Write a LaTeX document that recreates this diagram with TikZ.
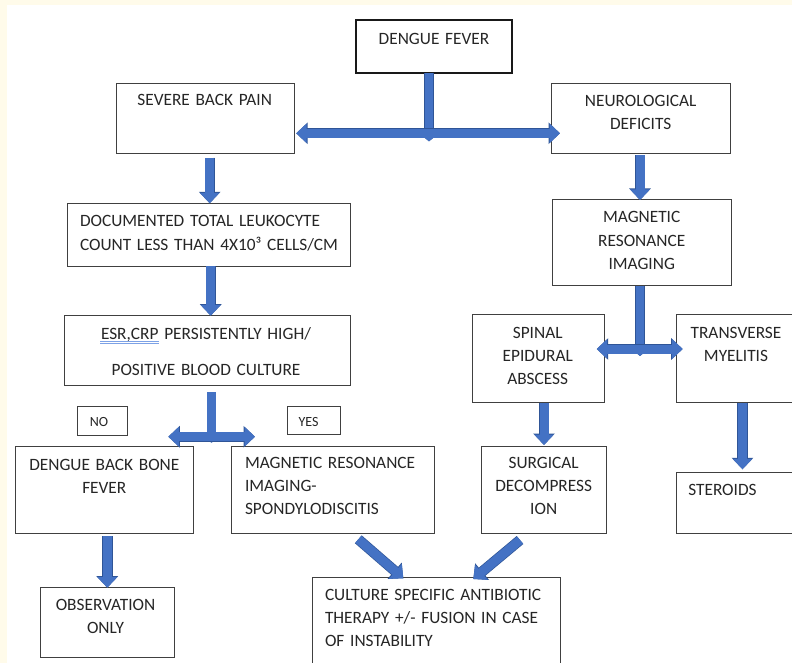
\documentclass[tikz,border=0pt]{standalone}
\usepackage{fontspec}
\setmainfont{Carlito}
\usetikzlibrary{arrows.meta,calc}
\definecolor{cream}{HTML}{FFFBEA}
\definecolor{ablue}{HTML}{4472C4}
\definecolor{aedge}{HTML}{2F5597}
\definecolor{txtc}{HTML}{262626}
\definecolor{boxc}{HTML}{404040}
\definecolor{ublue}{HTML}{7DA2E6}
\newcommand\mkbox[6][]{\node[box,#1,minimum width={(#5-#3)*1pt},minimum height={(#6-#4)*1pt}] (#2) at ({(#3+#5)/2},{(#4+#6)/2}) {};}
\tikzset{
  box/.style={draw=boxc, line width=1pt, inner sep=0pt, outer sep=0pt, fill=white},
  thickbox/.style={draw=black!90, line width=2pt},
  txt/.style={inner sep=0pt, outer sep=0pt, text=txtc, font=\fontsize{17.3}{23.3}\selectfont},
  ctext/.style={txt, text width=400pt, align=center, anchor=base},
  ltext/.style={txt, text width=400pt, align=left, anchor=base west},
  small/.style={font=\fontsize{14}{17}\selectfont},
  blk/.style={draw=ablue, line width=9pt, -{Triangle[length=10.5pt,width=19pt]},
    preaction={draw=aedge, line width=10.4pt, -{Triangle[length=11.5pt,width=21pt]}}},
  blk2/.style={draw=ablue, line width=9pt, {Triangle[length=10.5pt,width=19pt]}-{Triangle[length=10.5pt,width=19pt]},
    preaction={draw=aedge, line width=10.4pt, {Triangle[length=11.5pt,width=21pt]}-{Triangle[length=11.5pt,width=21pt]}}},
  blkstem/.style={draw=ablue, line width=8.5pt, -{Triangle[length=5pt,width=12pt]},
    preaction={draw=aedge, line width=9.9pt, -{Triangle[length=5.5pt,width=13.5pt]}}},
}
\begin{document}
\begin{tikzpicture}[x=1pt,y=-1pt]
\useasboundingbox (0,0) rectangle (792,663);
\fill[white] (0,0) rectangle (792,663);
\fill[cream] (0,0) rectangle (792,5.3);
\fill[cream] (0,0) rectangle (7.3,663);

% boxes
\mkbox[thickbox]{dengue}{356}{20}{512}{72.7}
\mkbox{severe}{116}{83.3}{294.7}{153.7}
\mkbox{neuro}{551.7}{83.3}{730.5}{153.7}
\mkbox{doc}{67.3}{203.3}{350.7}{266}
\mkbox{mri}{552.7}{200}{731}{285.7}
\mkbox{esr}{64}{315.7}{350.7}{385}
\mkbox{spinal}{472.3}{314.3}{604}{402.7}
\mkbox{trans}{676.7}{314.3}{800}{402.7}
\mkbox{no}{77.3}{406.7}{127.7}{435.7}
\mkbox{yes}{287.3}{406.7}{340}{434}
\mkbox{dbb}{15}{446}{193.3}{533.3}
\mkbox{mrs}{231.7}{446.7}{434.3}{533.3}
\mkbox{surg}{481}{446}{606.7}{533.3}
\mkbox{ster}{676.7}{472.7}{800}{533.3}
\mkbox{obs}{40}{587.7}{174}{657.7}
\mkbox{cult}{312}{577.7}{560}{680}

% junctions
\coordinate (jtop) at (429,133.3);
\coordinate (jmri) at (640,349);
\coordinate (jesr) at (211.5,436.7);
\coordinate (nlft) at (168.3,436.7);
\coordinate (nrgt) at (255,436.7);

% connectors
\draw[blkstem] (dengue.south -| jtop) -- ([yshift=-8pt]jtop);
\draw[blk2] ([xshift=1.5pt]severe.east |- jtop) -- ([xshift=8.3pt]neuro.west |- jtop);
\draw[blk] ([xshift=4.35pt,yshift=-4pt]severe.south) -- ([xshift=4.35pt]severe.south |- doc.north);
\draw[blk] ([xshift=1.7pt]doc.south) -- ([xshift=1.7pt]doc.south |- esr.north);
\draw[blk] ([xshift=-1.1pt,yshift=-1.6pt]neuro.south) -- ([xshift=-1.1pt]neuro.south |- mri.north);
\draw[blkstem] (mri.south -| jmri) -- ([yshift=-7pt]jmri);
\draw[blk2] ([xshift=-7.3pt]spinal.east |- jmri) -- ([xshift=6pt]trans.west |- jmri);
\draw[blk] ([xshift=5.85pt]spinal.south) -- ([xshift=5.85pt,yshift=1pt]spinal.south |- surg.north);
\draw[blk] ([xshift=4.15pt]trans.south) -- ([xshift=4.15pt,yshift=3.4pt]trans.south |- ster.north);
\draw[blkstem] ([yshift=-7.3pt]esr.south -| jesr) -- ([yshift=-6pt]jesr);
\draw[blk2] (nlft) -- (nrgt);
\draw[blk] ([xshift=3.15pt,yshift=-2.7pt]dbb.south) -- ([xshift=3.15pt]dbb.south |- obs.north);
\draw[blk] ([xshift=25.3pt,yshift=-6pt]mrs.south) -- ([xshift=-32.7pt,yshift=-0.6pt]cult.north);
\draw[blk] ([xshift=-23.85pt,yshift=-6.7pt]surg.south) -- ([xshift=37.3pt,yshift=-1.3pt]cult.north);

% texts
\node[ctext] (t-dengue) at (434,45) {DENGUE FEVER};
\node[ctext] (t-severe) at (204.7,106) {SEVERE BACK PAIN};
\node[ctext] (t-neuro) at (640.7,106.7) {NEUROLOGICAL\\DEFICITS};
\node[ltext] (t-doc) at (80,226.7) {DOCUMENTED TOTAL LEUKOCYTE\\COUNT LESS THAN 4X10³ CELLS/CM};
\node[ctext] (t-mri) at (641.7,222.7) {MAGNETIC\\RESONANCE\\IMAGING};
\node[ctext] (t-esr) at (206,339.3) {ESR,CRP PERSISTENTLY HIGH/\\[12.4pt]POSITIVE BLOOD CULTURE};
\node[ctext] (t-spinal) at (537.7,338.3) {SPINAL\\EPIDURAL\\ABSCESS};
\node[ctext] (t-trans) at (736,338.3) {TRANSVERSE\\MYELITIS};
\node[ctext,small] (t-no) at (99,426.7) {NO};
\node[ctext,small] (t-yes) at (308.5,426.7) {YES};
\node[ctext] (t-dbb) at (104.3,470) {DENGUE BACK BONE\\FEVER};
\node[ltext] (t-mrs) at (245,468.3) {MAGNETIC RESONANCE\\IMAGING-\\SPONDYLODISCITIS};
\node[ctext] (t-surg) at (543.7,468.3) {SURGICAL\\DECOMPRESS\\ION};
\node[ltext] (t-ster) at (688.3,495) {STEROIDS};
\node[ctext] (t-obs) at (105.5,610) {OBSERVATION\\ONLY};
\node[ltext] (t-cult) at (325,600) {CULTURE SPECIFIC ANTIBIOTIC\\THERAPY +/- FUSION IN CASE\\OF INSTABILITY};

% spell-check underline under ESR,CRP
\draw[ublue, line width=0.7pt] (100,341.6) -- (159,341.6);
\draw[ublue, line width=0.7pt] (100,343.8) -- (159,343.8);
\end{tikzpicture}
\end{document}
